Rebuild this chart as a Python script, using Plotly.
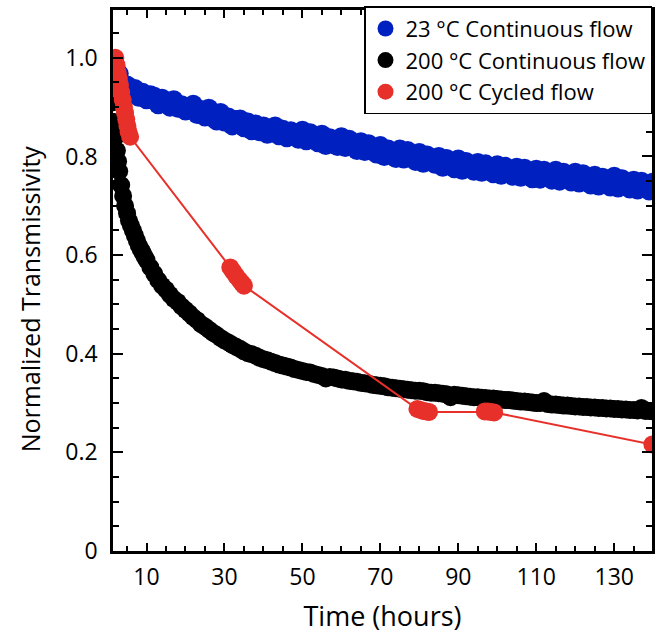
import plotly.graph_objects as go

# ---- data ----
blue_x = list(range(2, 141))
blue_y = [0.985, 0.968, 0.948, 0.945, 0.928, 0.938, 0.920, 0.930, 0.915,
          0.925, 0.922, 0.905, 0.918, 0.912, 0.900, 0.915, 0.898, 0.905, 0.892,
          0.900, 0.906, 0.885, 0.895, 0.880, 0.898, 0.878, 0.872, 0.889, 0.870,
          0.880, 0.862, 0.875, 0.876, 0.858, 0.870, 0.852, 0.866, 0.850, 0.862,
          0.845, 0.858, 0.862, 0.842, 0.855, 0.838, 0.852, 0.845, 0.835, 0.853,
          0.832, 0.848, 0.840, 0.828, 0.845, 0.822, 0.838, 0.830, 0.820, 0.840,
          0.818, 0.835, 0.826, 0.812, 0.830, 0.810, 0.826, 0.818, 0.805, 0.822,
          0.800, 0.815, 0.808, 0.796, 0.815, 0.795, 0.812, 0.802, 0.790, 0.808,
          0.786, 0.803, 0.795, 0.784, 0.800, 0.778, 0.796, 0.788, 0.775, 0.795,
          0.772, 0.790, 0.782, 0.770, 0.788, 0.768, 0.785, 0.775, 0.765, 0.783,
          0.762, 0.780, 0.770, 0.760, 0.778, 0.758, 0.776, 0.768, 0.755, 0.774,
          0.754, 0.772, 0.762, 0.752, 0.772, 0.750, 0.768, 0.760, 0.748, 0.768,
          0.746, 0.765, 0.755, 0.742, 0.762, 0.740, 0.758, 0.750, 0.738, 0.760,
          0.736, 0.755, 0.745, 0.734, 0.752, 0.732, 0.750, 0.742, 0.730, 0.748]

black_x = [1.5, 1.8, 2.1, 2.4, 2.7, 3.0, 3.5, 4.0, 4.5, 5.0, 5.5, 6.0, 6.5, 7, 7.5,
           8, 8.5, 9, 9.5, 10, 11, 12, 13, 14, 15] + list(range(16, 141))
black_y = [0.910, 0.870, 0.840, 0.812, 0.790, 0.770, 0.742, 0.720, 0.700, 0.685,
           0.670, 0.660, 0.650, 0.640, 0.630, 0.620, 0.612, 0.605, 0.597, 0.590,
           0.575, 0.562, 0.549, 0.538, 0.530,
           0.520, 0.511, 0.505, 0.496, 0.489, 0.482, 0.474, 0.468, 0.460, 0.455,
           0.449, 0.443, 0.438, 0.432, 0.427, 0.423, 0.418, 0.414, 0.410, 0.405,
           0.401, 0.399, 0.396, 0.392, 0.389,
           0.387, 0.384, 0.381, 0.378, 0.376, 0.374, 0.372, 0.369, 0.367, 0.365,
           0.363, 0.362, 0.359, 0.357, 0.355, 0.350, 0.353, 0.352, 0.350, 0.348,
           0.347, 0.345, 0.344, 0.343, 0.341, 0.340, 0.339, 0.337, 0.336, 0.335,
           0.334, 0.332, 0.331, 0.330, 0.329, 0.328, 0.327, 0.326, 0.325, 0.325,
           0.324, 0.322, 0.321, 0.321, 0.320, 0.319, 0.318, 0.312, 0.317, 0.316,
           0.315, 0.314, 0.313, 0.312, 0.312, 0.311, 0.310, 0.309, 0.309, 0.308,
           0.307, 0.306, 0.306, 0.305, 0.304, 0.303, 0.303, 0.302, 0.301, 0.300,
           0.300, 0.304, 0.298, 0.297, 0.297, 0.296, 0.295, 0.295, 0.294, 0.293,
           0.293, 0.292, 0.292, 0.291, 0.291, 0.290, 0.290, 0.289, 0.289, 0.288,
           0.288, 0.287, 0.287, 0.286, 0.286, 0.285, 0.290, 0.284, 0.284, 0.283]

red_x = [2.0, 2.3, 2.6, 2.9, 3.2, 3.5, 3.9, 4.2, 4.5, 4.8, 5.1, 5.4, 5.8,
         31.5, 32.2, 33.0, 33.8, 34.5, 35.0,
         79.5, 80.3, 81.0, 81.8, 82.5,
         96.8, 97.6, 98.4, 99.2,
         139.8]
red_y = [1.000, 0.985, 0.970, 0.958, 0.945, 0.930, 0.915, 0.900, 0.888, 0.875,
         0.862, 0.850, 0.840,
         0.575, 0.567, 0.558, 0.550, 0.543, 0.538,
         0.288, 0.286, 0.284, 0.283, 0.282,
         0.283, 0.283, 0.282, 0.281,
         0.216]

x_tickvals = [10, 30, 50, 70, 90, 110, 130]
y_tickvals = [0, 0.2, 0.4, 0.6, 0.8, 1.0]
y_ticktext = ["0", "0.2", "0.4", "0.6", "0.8", "1.0"]

BLUE = "#0020c0"
BLACK = "#000000"
RED = "#e8302a"
FONT = "Open Sans"

fig = go.Figure()
fig.add_trace(go.Scatter(x=blue_x, y=blue_y, mode="markers",
                         marker=dict(color=BLUE, size=19),
                         name="23 °C Continuous flow"))
fig.add_trace(go.Scatter(x=black_x, y=black_y, mode="markers",
                         marker=dict(color=BLACK, size=18),
                         name="200 °C Continuous flow"))
fig.add_trace(go.Scatter(x=red_x, y=red_y, mode="lines",
                         line=dict(color=RED, width=2), showlegend=False))
fig.add_trace(go.Scatter(x=red_x, y=red_y, mode="markers",
                         marker=dict(color=RED, size=18),
                         name="200 °C Cycled flow"))

axis_common = dict(showline=True, linecolor="black", linewidth=2.5, mirror="ticks",
                   ticks="inside", tickcolor="black", tickwidth=2,
                   showgrid=False, zeroline=False,
                   tickfont=dict(family=FONT, size=23, color="black"))

fig.update_xaxes(range=[1.4, 139.7], tickvals=x_tickvals, ticklen=8,
                 minor=dict(dtick=5, tick0=0, ticks="inside", ticklen=5,
                            tickcolor="black", tickwidth=2),
                 title=dict(text="Time (hours)", font=dict(family=FONT, size=27, color="black"),
                            standoff=16),
                 ticklabelstandoff=4,
                 **axis_common)
fig.update_yaxes(range=[0, 1.097], tickvals=y_tickvals, ticktext=y_ticktext, ticklen=10,
                 minor=dict(dtick=0.05, tick0=0, ticks="inside", ticklen=6,
                            tickcolor="black", tickwidth=2),
                 ticklabelstandoff=8,
                 **axis_common)

fig.add_annotation(text="Normalized Transmissivity", textangle=-90,
                   xref="paper", yref="paper", x=-0.155, y=0.466,
                   xanchor="center", yanchor="middle", showarrow=False,
                   font=dict(family=FONT, size=25, color="black"))

fig.update_layout(
    width=657, height=637,
    margin=dict(l=113, r=2, t=10, b=86),
    plot_bgcolor="white", paper_bgcolor="white",
    legend=dict(x=1, y=1.007, xanchor="right", yanchor="top",
                bgcolor="white", bordercolor="black", borderwidth=1.5,
                font=dict(family=FONT, size=22, color="black"),
                itemsizing="trace", tracegroupgap=0),
    showlegend=True,
)

fig.write_html("out.html", config={"displayModeBar": False},
               post_script="document.body.style.margin='0px';document.body.style.overflow='hidden';")
